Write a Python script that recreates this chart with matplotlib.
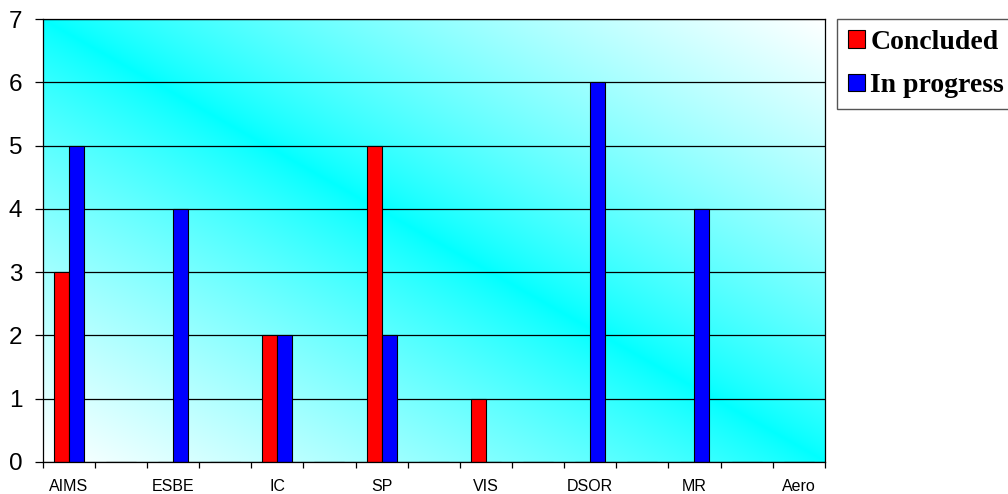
import matplotlib
matplotlib.use('Agg')
import matplotlib.pyplot as plt
import numpy as np

# 15 category slots, Excel only shows every second label
categories = ['AIMS', '', 'ESBE', '', 'IC', '', 'SP', '', 'VIS', '', 'DSOR', '', 'MR', '', 'Aero']
concluded = [3, 0, 0, 0, 2, 0, 5, 0, 1, 0, 0, 0, 0, 0, 0]
in_progress = [5, 0, 4, 0, 2, 0, 2, 0, 0, 0, 6, 0, 4, 0, 0]
series_names = ['Concluded', 'In progress']

fig = plt.figure(figsize=(10.08, 4.94), dpi=100)
ax = fig.add_axes([0.0423, 0.0648, 0.776, 0.8967])

# diagonal gradient: cyan band from top-left to bottom-right, white corners
W, H = 400, 240
u = np.linspace(0, 1, W)
v = np.linspace(0, 1, H)
U, V = np.meshgrid(u, v)
t = np.clip(np.abs(U + V - 1), 0, 1) ** 0.8
img = np.ones((H, W, 3))
img[:, :, 0] = t
ax.imshow(img, extent=[0, 1, 0, 1], transform=ax.transAxes, origin='lower',
          aspect='auto', interpolation='bilinear', zorder=0.1)

x = np.arange(len(categories))
w = 0.287
ax.bar(x - w / 2, concluded, w, color='#ff0000', edgecolor='black', linewidth=0.8,
       label=series_names[0], zorder=2)
ax.bar(x + w / 2, in_progress, w, color='#0000ff', edgecolor='black', linewidth=0.8,
       label=series_names[1], zorder=2)

ax.set_xlim(-0.5, len(categories) - 0.5)
ax.set_ylim(0, 7)
ax.set_yticks(range(0, 8))
ax.yaxis.grid(True, color='black', linewidth=0.9)
ax.set_axisbelow(True)

ax.set_xticks(x[::2])
ax.set_xticklabels(categories[::2])
ax.set_xticks(np.arange(len(categories) + 1) - 0.5, minor=True)
ax.tick_params(axis='x', which='major', length=0, pad=12)
ax.tick_params(axis='x', which='minor', length=4, width=0.9, direction='out')
ax.tick_params(axis='y', length=6, width=0.9, direction='out', pad=8.5)

for lab in ax.get_xticklabels():
    lab.set_fontfamily('Liberation Sans')
    lab.set_fontsize(11.5)
for lab in ax.get_yticklabels():
    lab.set_fontfamily('Liberation Sans')
    lab.set_fontsize(17.5)

for s in ax.spines.values():
    s.set_color('black')
    s.set_linewidth(0.9)

leg = fig.legend(loc='upper left', bbox_to_anchor=(837 / 1008, 1 - 19 / 494),
                 prop={'family': 'Liberation Serif', 'weight': 'bold', 'size': 20},
                 handlelength=0.6, handleheight=0.6, handletextpad=0.2,
                 labelspacing=0.65, borderpad=0.4, borderaxespad=0,
                 fancybox=False, framealpha=1, edgecolor='#555555')
leg.get_frame().set_linewidth(1.0)

fig.savefig('out.png', dpi=100)
